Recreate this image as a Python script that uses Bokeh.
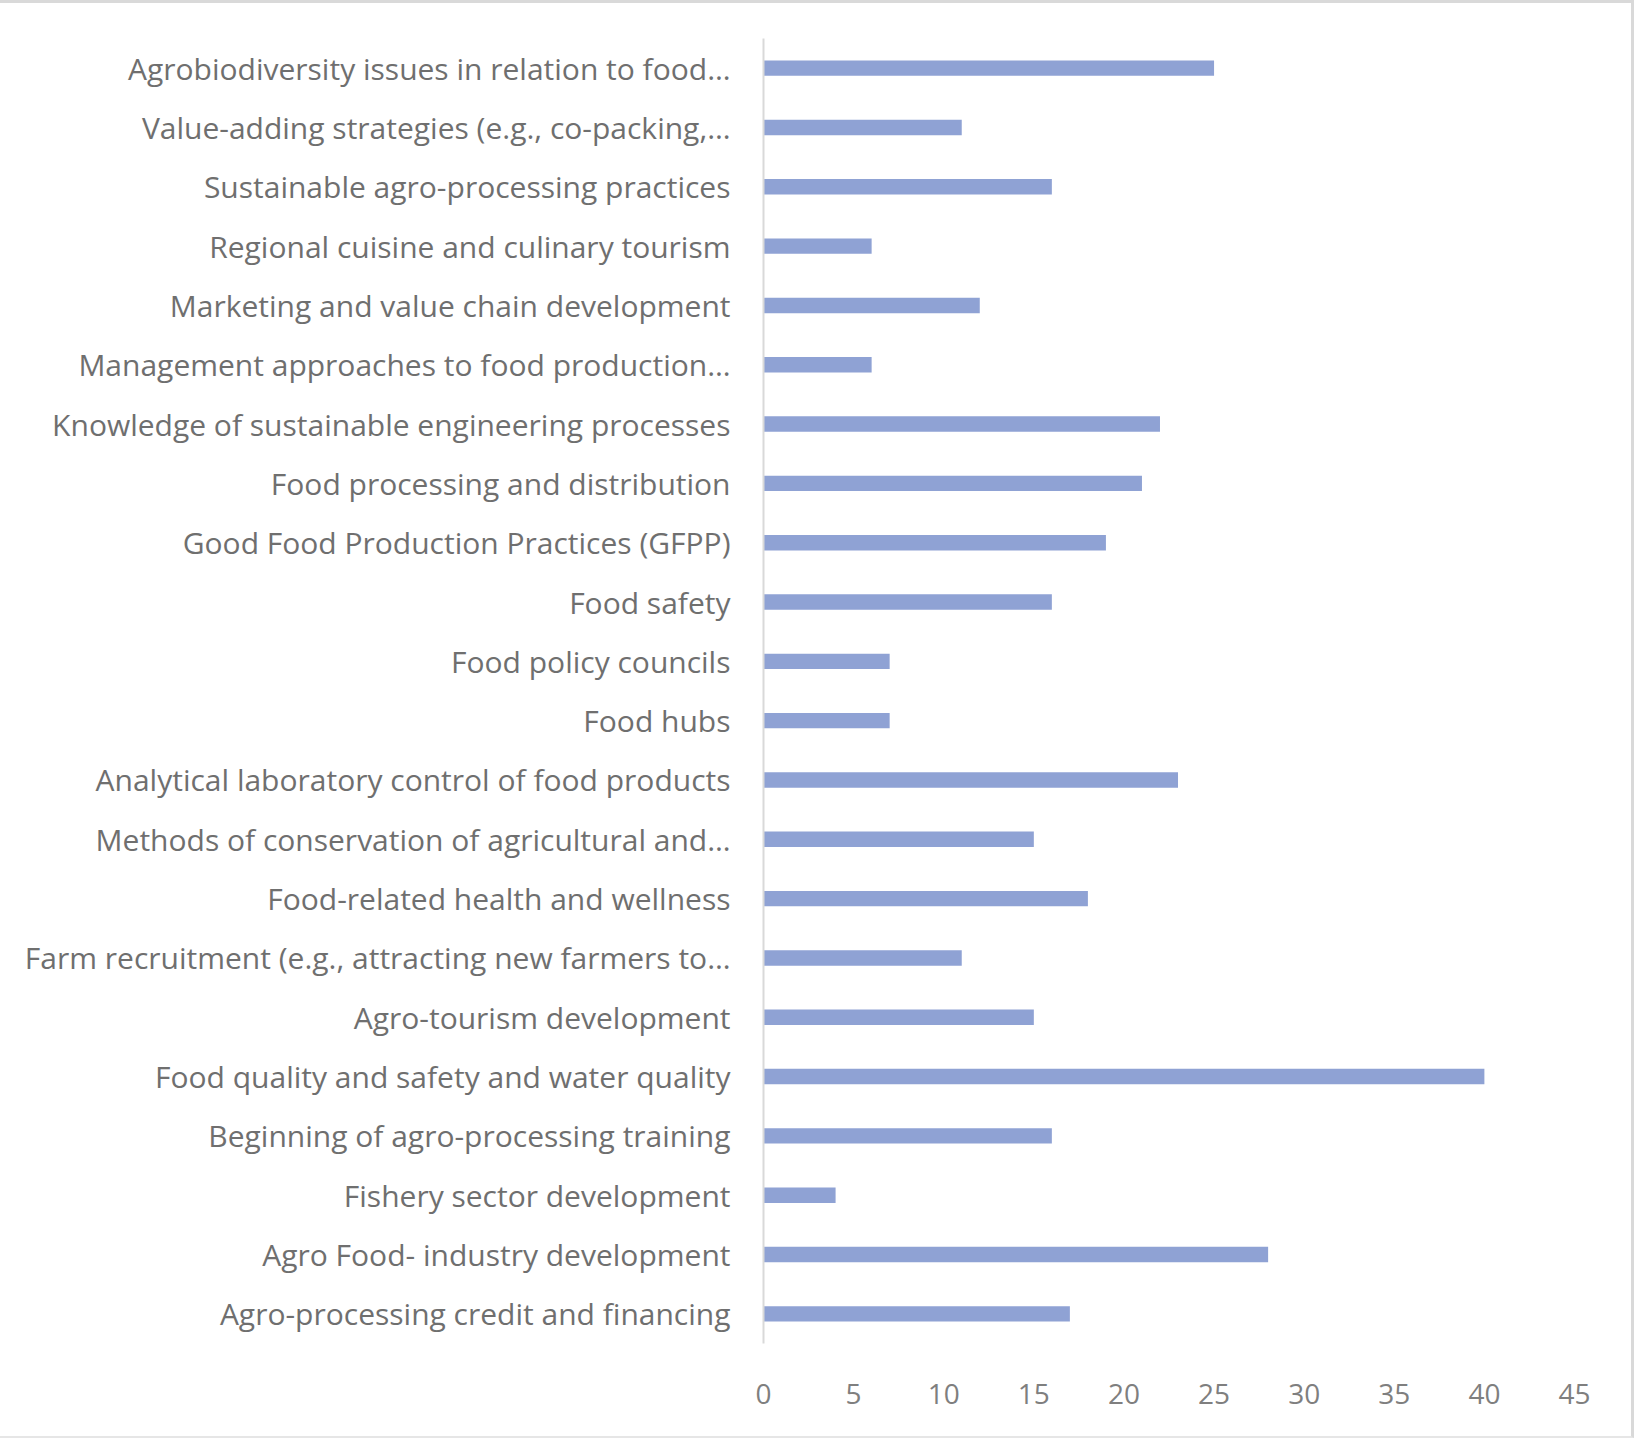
from bokeh.plotting import figure
from bokeh.models import Range1d, FixedTicker
from bokeh.embed import file_html
from bokeh.resources import INLINE

categories = [
    "Agrobiodiversity issues in relation to food…",
    "Value-adding strategies (e.g., co-packing,…",
    "Sustainable agro-processing practices",
    "Regional cuisine and culinary tourism",
    "Marketing and value chain development",
    "Management approaches to food production…",
    "Knowledge of sustainable engineering processes",
    "Food processing and distribution",
    "Good Food Production Practices (GFPP)",
    "Food safety",
    "Food policy councils",
    "Food hubs",
    "Analytical laboratory control of food products",
    "Methods of conservation of agricultural and…",
    "Food-related health and wellness",
    "Farm recruitment (e.g., attracting new farmers to…",
    "Agro-tourism development",
    "Food quality and safety and water quality",
    "Beginning of agro-processing training",
    "Fishery sector development",
    "Agro Food- industry development",
    "Agro-processing credit and financing",
]
values = [25, 11, 16, 6, 12, 6, 22, 21, 19, 16, 7, 7, 23, 15, 18, 11, 15, 40, 16, 4, 28, 17]
x_ticks = [0, 5, 10, 15, 20, 25, 30, 35, 40, 45]

p = figure(
    y_range=list(reversed(categories)),
    x_range=Range1d(0, 45),
    width=1634, height=1438,
    output_backend="svg", toolbar_location=None,
    min_border_left=763, min_border_right=60,
    min_border_top=35, min_border_bottom=98,
)
p.styles = {"border-top": "3px solid #d9d9d9", "border-right": "3px solid #d9d9d9",
            "border-bottom": "2px solid #e6e6e6"}

p.hbar(y=categories, right=values, left=0, height=0.26,
       fill_color="#8FA2D4", line_color=None)

p.outline_line_color = None
p.xgrid.grid_line_color = None
p.ygrid.grid_line_color = None

p.xaxis.ticker = FixedTicker(ticks=x_ticks)
p.xaxis.axis_line_color = None
p.xaxis.major_tick_line_color = None
p.xaxis.minor_tick_line_color = None
p.xaxis.major_label_text_font = "Open Sans"
p.xaxis.major_label_text_font_size = "28px"
p.xaxis.major_label_text_color = "#7f7f7f"
p.xaxis.major_label_standoff = 34

p.yaxis.axis_line_color = "#d9d9d9"
p.yaxis.axis_line_width = 2
p.yaxis.major_tick_line_color = None
p.yaxis.minor_tick_line_color = None
p.yaxis.major_label_text_font = "Open Sans"
p.yaxis.major_label_text_font_size = "30px"
p.yaxis.major_label_text_color = "#6f6f6f"
p.yaxis.major_label_standoff = 27

open("out.html", "w").write(file_html(p, INLINE))
